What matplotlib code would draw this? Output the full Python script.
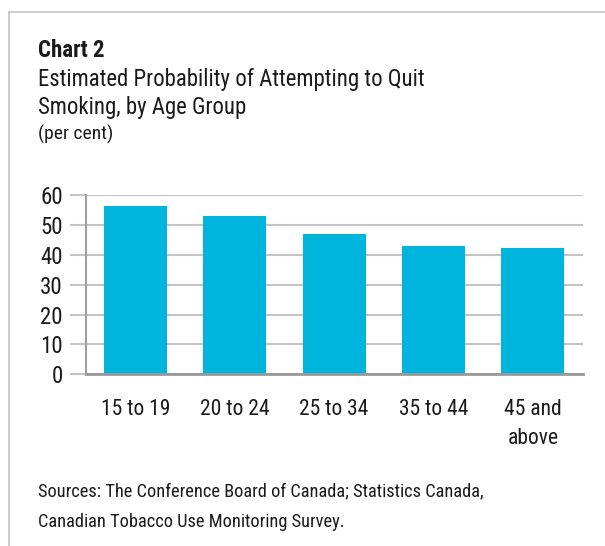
import matplotlib
matplotlib.use('Agg')
import matplotlib.pyplot as plt
from matplotlib.lines import Line2D

plt.rcParams['font.family'] = ['Roboto Condensed', 'Liberation Sans', 'DejaVu Sans']

# data
age_groups = ['15 to 19', '20 to 24', '25 to 34', '35 to 44', '45 and\nabove']
probability = [56.4, 53.0, 47.0, 43.0, 42.3]
y_ticks = [0, 10, 20, 30, 40, 50, 60]

W, H = 605, 546
fig = plt.figure(figsize=(W / 100, H / 100), dpi=100)
fig.patch.set_facecolor('white')

# outer frame (only top and left visible)
frame_c = '#c4c4c4'
fig.add_artist(Line2D([9 / W, 1], [1 - 11.7 / H] * 2, transform=fig.transFigure, color=frame_c, lw=1.2))
fig.add_artist(Line2D([9 / W] * 2, [0, 1 - 11.7 / H], transform=fig.transFigure, color=frame_c, lw=1.2))

txt_c = '#1a1a1a'
# titles
fig.text(38 / W, 1 - 57 / H, 'Chart 2', fontsize=16.5, fontweight='bold', va='baseline', color=txt_c)
fig.text(38 / W, 1 - 86 / H, 'Estimated Probability of Attempting to Quit', fontsize=16.4, va='baseline', color=txt_c)
fig.text(38 / W, 1 - 114 / H, 'Smoking, by Age Group', fontsize=16.4, va='baseline', color=txt_c)
fig.text(38 / W, 1 - 140 / H, '(per cent)', fontsize=14, va='baseline', color=txt_c)

ax = fig.add_axes([85.7 / W, 171.7 / H, (582.5 - 85.7) / W, 179.3 / H])
x = range(len(age_groups))
ax.bar(x, probability, width=0.635, color='#00b5dd', zorder=3)

ax.set_xlim(-0.5, len(age_groups) - 0.5)
ax.set_ylim(0, 60)
ax.set_yticks(y_ticks)
ax.set_xticks(list(x))
ax.set_xticklabels(age_groups, linespacing=1.45, va='top')
ax.yaxis.grid(True, color='#c4c4c4', lw=1.5, zorder=0)
ax.tick_params(axis='y', length=11.5, width=1.5, color='#c4c4c4', pad=5, labelsize=16.5, labelcolor=txt_c)
ax.tick_params(axis='x', length=0, pad=18, labelsize=15.5, labelcolor=txt_c)
for s in ['top', 'right']:
    ax.spines[s].set_visible(False)
ax.spines['left'].set_color('#a0a0a0')
ax.spines['left'].set_linewidth(1.5)
ax.spines['bottom'].set_color('#999999')
ax.spines['bottom'].set_linewidth(2)
ax.spines['bottom'].set_zorder(4)

fig.text(38 / W, 1 - 496 / H, 'Sources: The Conference Board of Canada; Statistics Canada,', fontsize=13.2, va='baseline', color=txt_c)
fig.text(38 / W, 1 - 527 / H, 'Canadian Tobacco Use Monitoring Survey.', fontsize=13.2, va='baseline', color=txt_c)

fig.savefig('out.png', dpi=100, facecolor='white')
